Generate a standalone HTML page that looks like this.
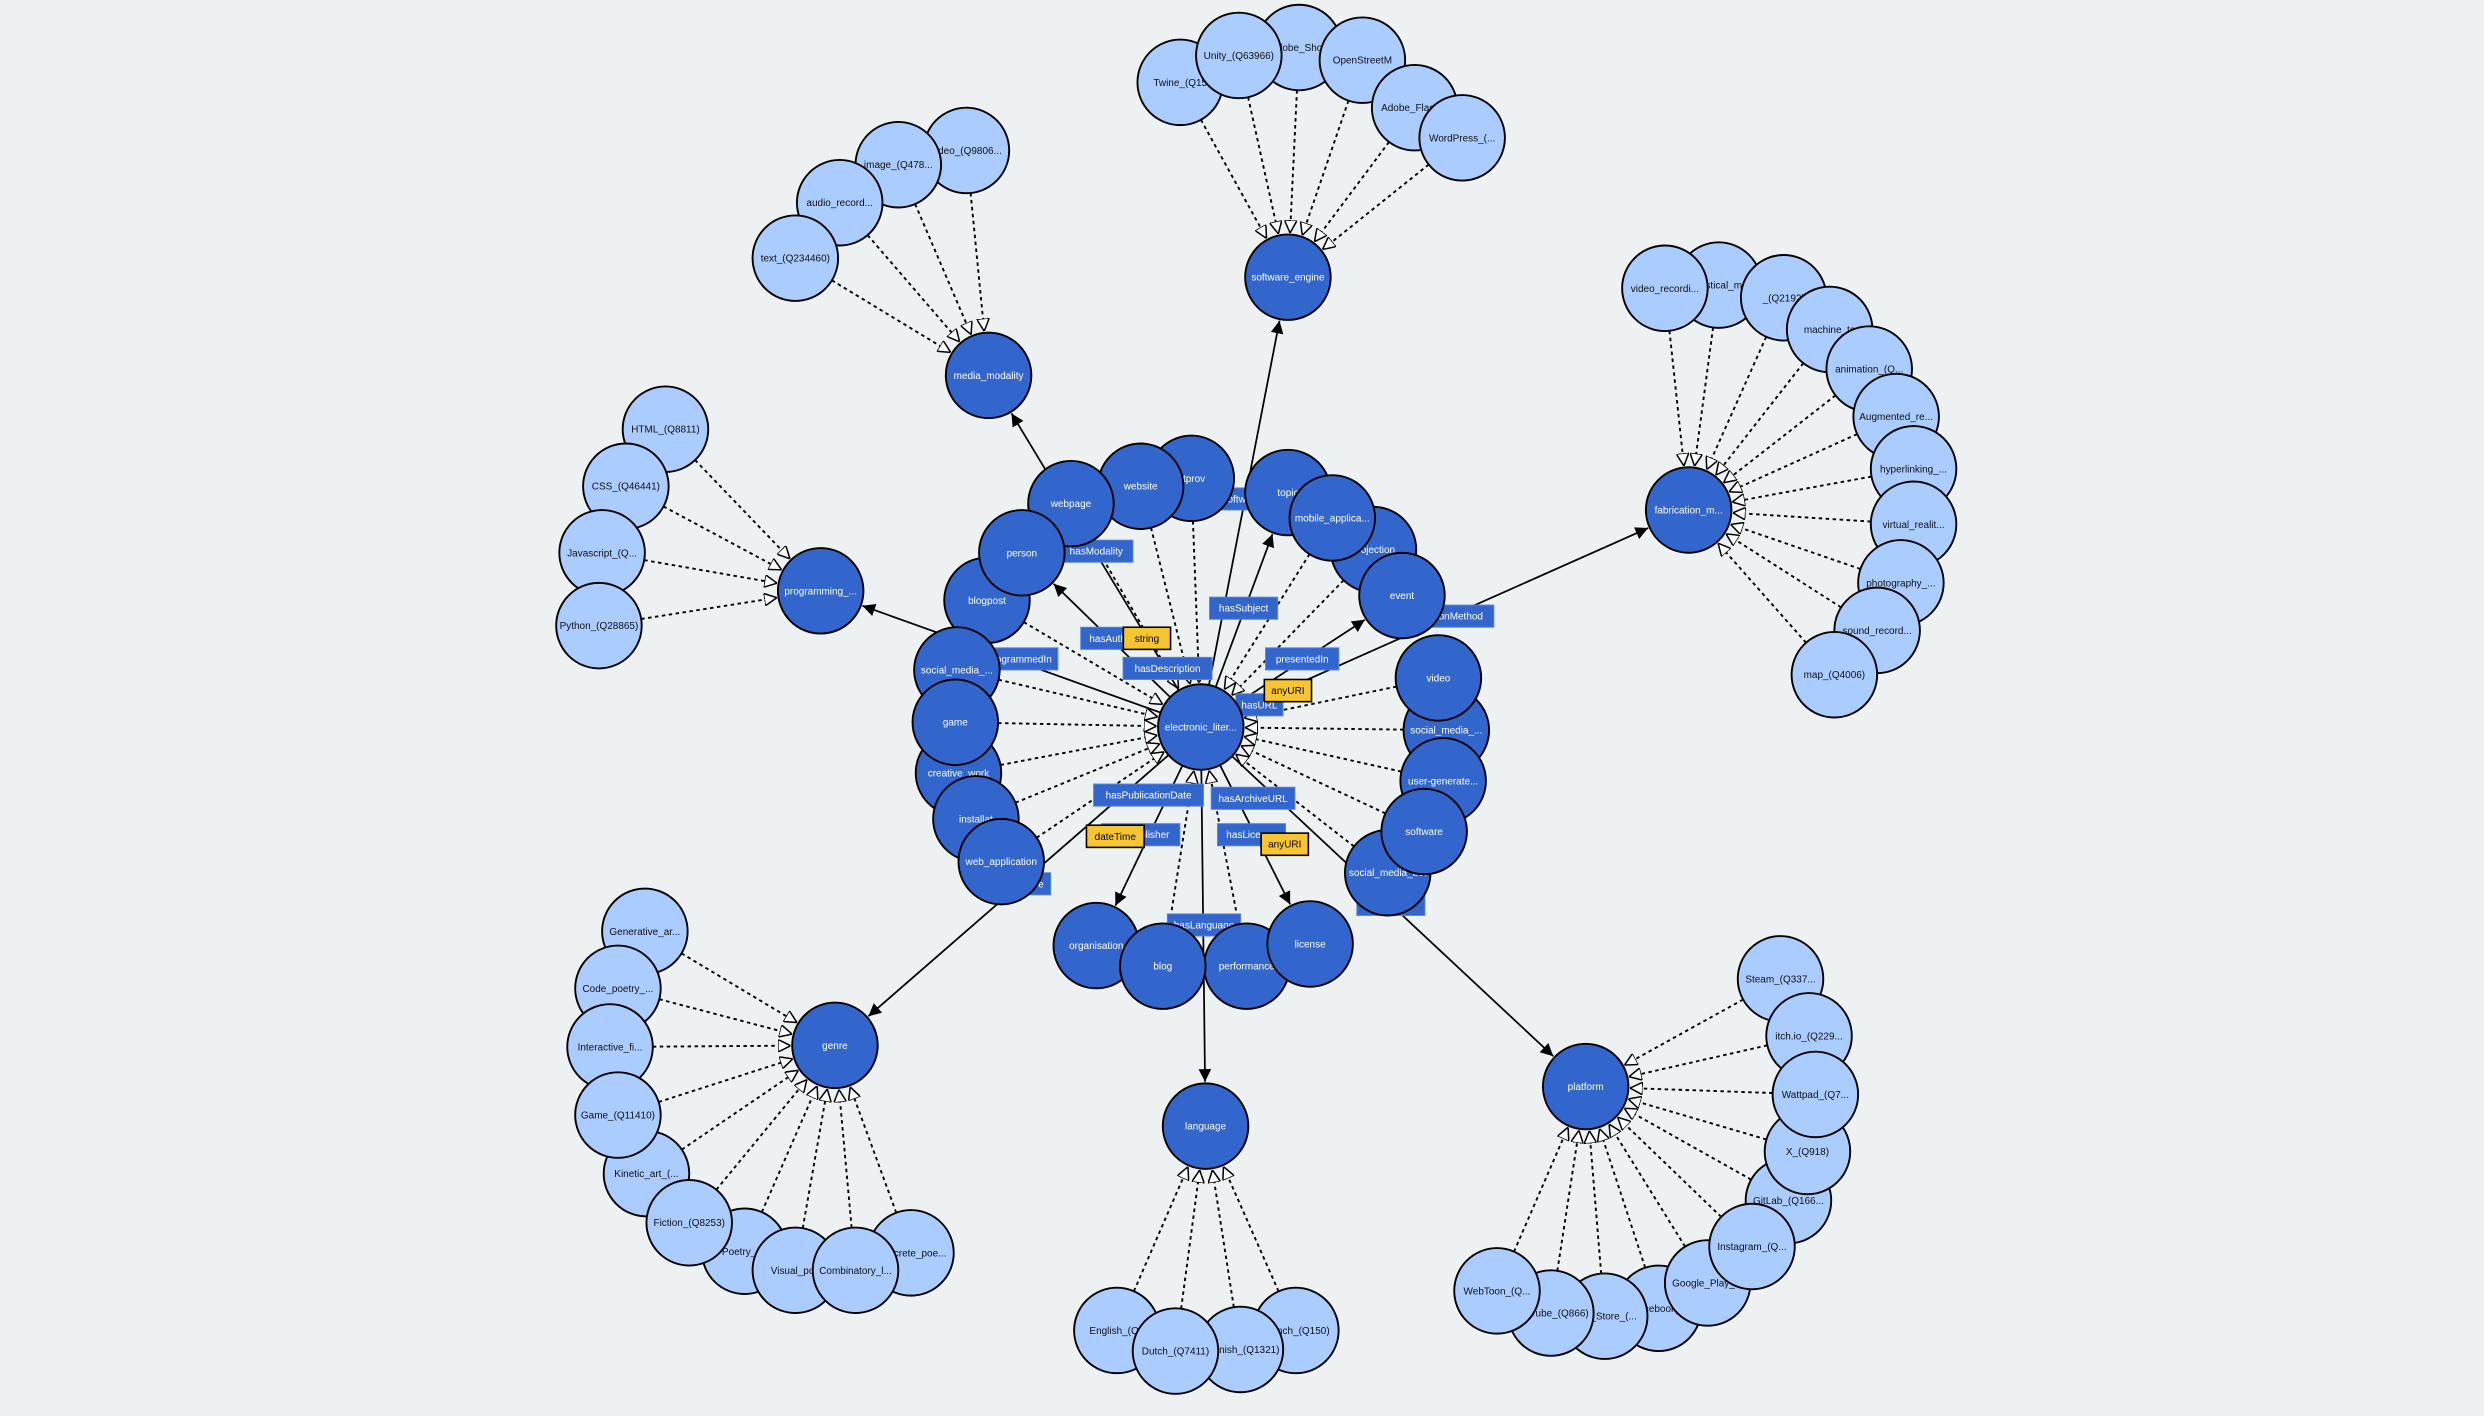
<!DOCTYPE html>
<html><head><meta charset="utf-8"><style>
html,body{margin:0;padding:0;background:#edf1f2;}
svg{display:block;font-family:"Liberation Sans",sans-serif;}
</style></head><body>
<svg id="g" width="2484" height="1416" viewBox="0 0 1568 894" xmlns="http://www.w3.org/2000/svg">
<defs>
<marker id="solid" viewBox="0 0 10 10" refX="10" refY="5" markerWidth="8" markerHeight="8" markerUnits="userSpaceOnUse" orient="auto"><path d="M0,0 L10,5 L0,10 z" fill="#000"/></marker>
<marker id="hollow" viewBox="0 0 10 10" refX="10" refY="5" markerWidth="8" markerHeight="8" markerUnits="userSpaceOnUse" orient="auto"><path d="M0,0 L10,5 L0,10 z" fill="#fff" stroke="#000" stroke-width="1.2"/></marker>
</defs>
<g id="edges"></g><g id="labels"></g><g id="nodes"></g>
</svg>
<script>
const R = 27;
const center = ["electronic_liter...", 758, 459];
const hubNames = ["media_modality","software_engine","fabrication_m...","programming_...","genre","language","platform"];
const hubX = [624,813,1066,518,527,761,1001];
const hubY = [237,175,322,373,660,711,686];
const ringNames = ["etprov","website","webpage","person","blogpost","social_media_...","game","creative_work","installat","web_application","organisation","blog","performance","license","social_media_bot","software","user-generate...","social_media_...","video","event","projection","mobile_applica...","topic"];
const ringX = [752,720,676,645,623,604,603,605,616,632,692,734,787,827,876,899,911,913,908,885,867,841,813];
const ringY = [302,307,318,349,379,423,456,488,517,544,597,610,610,596,551,525,493,461,428,376,347,327,311];
const ringSolid = ["person","organisation","license","event","topic"];
const ringOrder = [0,1,2,4,3,22,20,21,19,7,8,9,5,6,10,12,11,13,17,16,18,14,15];
const leafNames = ["video_(Q9806...","image_(Q478...","audio_record...","text_(Q234460)",
 "Adobe_Shop","Twine_(Q15","Unity_(Q63966)","OpenStreetM","Adobe_Flash...","WordPress_(...",
 "statistical_m...","video_recordi...","_(Q2192)","machine_te","animation_(Q...","Augmented_re...","hyperlinking_...","virtual_realit...","photography_...","sound_record...","map_(Q4006)",
 "HTML_(Q8811)","CSS_(Q46441)","Javascript_(Q...","Python_(Q28865)",
 "Generative_ar...","Code_poetry_...","Interactive_fi...","Kinetic_art_(...","Game_(Q11410)","Poetry_(Q","Fiction_(Q8253)","Concrete_poe...","Visual_poe","Combinatory_l...",
 "English_(Q1","French_(Q150)","Spanish_(Q1321)","Dutch_(Q7411)",
 "Steam_(Q337...","GitLab_(Q166...","X_(Q918)","itch.io_(Q229...","Wattpad_(Q7...","Facebook_(","App_Store_(...","YouTube_(Q866)","WebToon_(Q...","Google_Play_...","Instagram_(Q..."];
const leafX = [610,567,530,502, 820,745,782,860,893,923, 1085,1051,1126,1155,1180,1197,1208,1208,1200,1185,1158, 420,395,380,378, 407,390,385,408,390,470,435,575,502,540, 705,818,783,742, 1124,1129,1141,1142,1146,1047,1013,979,945,1078,1106];
const leafY = [95,104,128,163, 30,52,35,38,68,87, 180,182,188,208,233,263,296,331,368,398,426, 271,307,349,395, 588,624,661,741,704,790,772,791,802,802, 840,840,852,853, 618,758,727,654,691,826,831,829,815,810,787];
const leafHub = [0,0,0,0, 1,1,1,1,1,1, 2,2,2,2,2,2,2,2,2,2,2, 3,3,3,3, 4,4,4,4,4,4,4,4,4,4, 5,5,5,5, 6,6,6,6,6,6,6,6,6,6,6];
const edgeLabels = ["hasSoftware","hasModality","hasAuthor","hasDescription","hasSubject","presentedIn","hasFabricationMethod","hasURL","hasProgrammedIn","hasPublicationDate","hasPublisher","hasArchiveURL","hasLicense","hasLanguage","hasGenre","hasCreator"];
const edgeLabelX = [778,692,702,737,785,822,905,795,638,725,720,791,790,760,645,878];
const edgeLabelY = [315,348,403,422,384,416,389,445,416,502,527,504,527,584,558,571];
const literalNames = ["string","anyURI","dateTime","anyURI"];
const literalX = [724,813,704,811];
const literalY = [403,436,528,533];

const NS="http://www.w3.org/2000/svg";
const E=document.getElementById('edges'), L=document.getElementById('labels'), N=document.getElementById('nodes');
function mk(t,p,a){const e=document.createElementNS(NS,t);for(const k in a)e.setAttribute(k,a[k]);p.appendChild(e);return e;}
function edge(x1,y1,x2,y2,dashed,name){
  const dx=x2-x1,dy=y2-y1,d=Math.hypot(dx,dy);
  const ex=x2-dx/d*(R+1),ey=y2-dy/d*(R+1),sx=x1+dx/d*R,sy=y1+dy/d*R;
  const l=mk('line',E,{x1:sx,y1:sy,x2:ex,y2:ey,stroke:'#000','stroke-width':dashed?1.2:1.1,'stroke-dasharray':dashed?'2.2,2.2':'none','marker-end':dashed?'url(#hollow)':'url(#solid)'});
  
  
}
function node(x,y,label,dark,name){
  const g=mk('g',N,{});
  
  
  mk('circle',g,{cx:x,cy:y,r:R,fill:dark?'#3366cc':'#aaccff',stroke:'#000','stroke-width':1.2});
  const t=mk('text',g,{x:x,y:y+2.2,'text-anchor':'middle','font-size':6.3,fill:dark?'#fff':'#111'});
  t.textContent=label;
}
function tag(x,y,text,yellow,name){
  const g=mk('g',L,{});
  
  
  const w=text.length*3.3+10;
  mk('rect',g,{x:x-w/2,y:y-7,width:w,height:14,fill:yellow?'#f7c531':'#3366cc',stroke:yellow?'#000':'#5a86d6','stroke-width':yellow?1:0.6});
  const t=mk('text',g,{x:x,y:y+2.2,'text-anchor':'middle','font-size':6.3,fill:yellow?'#000':'#fff'});
  t.textContent=text;
}
const cx=center[1], cy=center[2];
for(let i=0;i<leafNames.length;i++){const h=leafHub[i];edge(leafX[i],leafY[i],hubX[h],hubY[h],true,'subclass-edge-'+i);}
for(let i=0;i<ringNames.length;i++){
  if(ringSolid.includes(ringNames[i])) edge(cx,cy,ringX[i],ringY[i],false,'property-edge-'+ringNames[i]);
  else edge(ringX[i],ringY[i],cx,cy,true,'subclass-edge-'+ringNames[i]);
}
for(let i=0;i<hubNames.length;i++) edge(cx,cy,hubX[i],hubY[i],false,'property-edge-hub-'+i);
for(let i=0;i<edgeLabels.length;i++) tag(edgeLabelX[i],edgeLabelY[i],edgeLabels[i],false,'edge-label-'+edgeLabels[i]);
for(let i=0;i<literalNames.length;i++) tag(literalX[i],literalY[i],literalNames[i],true,'literal-'+literalNames[i]);
for(let i=0;i<leafNames.length;i++) node(leafX[i],leafY[i],leafNames[i],false,'leaf-node-'+i);
for(let i=0;i<hubNames.length;i++) node(hubX[i],hubY[i],hubNames[i],true,'hub-node-'+i);
for(const i of ringOrder) node(ringX[i],ringY[i],ringNames[i],true,'ring-node-'+i);
node(cx,cy,center[0],true,'center-node');
</script>
</body></html>
